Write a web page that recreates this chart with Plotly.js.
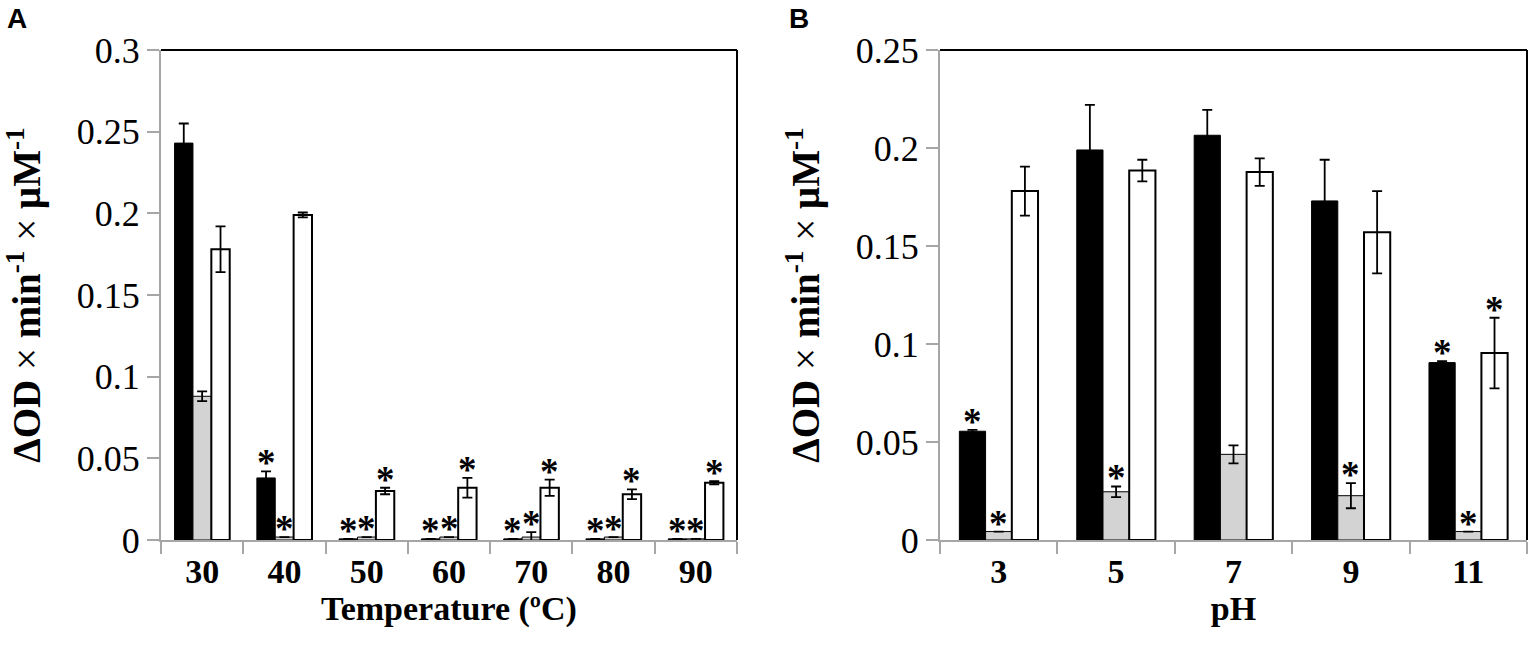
<!DOCTYPE html>
<html>
<head>
<meta charset="utf-8">
<script src="https://cdn.plot.ly/plotly-3.0.1.min.js"></script>
<style>html,body{margin:0;padding:0;background:#fff;}#chart{width:1536px;height:665px;}</style>
</head>
<body>
<div id="chart"></div>
<script>
// ---- Data ----
const tempCats = ['30', '40', '50', '60', '70', '80', '90'];
const tempBlack = [0.243, 0.038, 0.0007, 0.0007, 0.0007, 0.0007, 0.0007];
const tempBlackErr = [0.012, 0.004, 0, 0, 0, 0, 0];
const tempGray = [0.088, 0.0018, 0.0018, 0.0018, 0.0018, 0.0018, 0.0007];
const tempGrayErr = [0.003, 0, 0, 0, 0.003, 0, 0];
const tempWhite = [0.178, 0.199, 0.030, 0.032, 0.032, 0.028, 0.035];
const tempWhiteErr = [0.014, 0.0015, 0.002, 0.006, 0.005, 0.003, 0.001];
const tempStarBlack = [0, 1, 1, 1, 1, 1, 1];
const tempStarGray = [0, 1, 1, 1, 1, 1, 1];
const tempStarWhite = [0, 0, 1, 1, 1, 1, 1];

const phCats = ['3', '5', '7', '9', '11'];
const phBlack = [0.0555, 0.199, 0.2065, 0.173, 0.0905];
const phBlackErr = [0.0007, 0.023, 0.013, 0.021, 0.0007];
const phGray = [0.0043, 0.0246, 0.0437, 0.0226, 0.0043];
const phGrayErr = [0, 0.0027, 0.0046, 0.0064, 0];
const phWhite = [0.178, 0.1885, 0.1877, 0.157, 0.0954];
const phWhiteErr = [0.0125, 0.0055, 0.007, 0.021, 0.018];
const phStarBlack = [1, 0, 0, 0, 1];
const phStarGray = [1, 1, 0, 1, 1];
const phStarWhite = [0, 0, 0, 0, 1];

const yTitle = '<b>ΔOD</b> × <b>min<sup>-1</sup></b> × <b>μM<sup>-1</sup></b>';

// ---- Styles ----
const BARGAP = 0.33;
const serif = 'Liberation Serif, Times New Roman, serif';
const fills = ['#000000', '#d3d3d3', '#ffffff'];
const lineW = [1, 1, 2];

function barTrace(cats, vals, errs, k, xa, ya) {
  return {
    type: 'bar', x: cats, y: vals, xaxis: xa, yaxis: ya, showlegend: false,
    marker: {color: fills[k], line: {color: '#000', width: lineW[k]}},
    error_y: {type: 'data', array: errs, visible: true, color: '#000', thickness: 1.8, width: 5},
    hoverinfo: 'skip'
  };
}

const traces = [
  barTrace(tempCats, tempBlack, tempBlackErr, 0, 'x', 'y'),
  barTrace(tempCats, tempGray, tempGrayErr, 1, 'x', 'y'),
  barTrace(tempCats, tempWhite, tempWhiteErr, 2, 'x', 'y'),
  barTrace(phCats, phBlack, phBlackErr, 0, 'x2', 'y2'),
  barTrace(phCats, phGray, phGrayErr, 1, 'x2', 'y2'),
  barTrace(phCats, phWhite, phWhiteErr, 2, 'x2', 'y2')
];

// star annotations
const annotations = [];
const bw = (1 - BARGAP) / 3;
function addStars(stars, vals, errs, k, xa, ya) {
  stars.forEach((s, i) => {
    if (!s) return;
    annotations.push({
      xref: xa, yref: ya, x: i + (k - 1) * bw, y: vals[i] + errs[i],
      text: '<b>*</b>', showarrow: false, yanchor: 'bottom', xanchor: 'center', yshift: -14,
      font: {family: serif, size: 37, color: '#000'}
    });
  });
}
addStars(tempStarBlack, tempBlack, tempBlackErr, 0, 'x', 'y');
addStars(tempStarGray, tempGray, tempGrayErr, 1, 'x', 'y');
addStars(tempStarWhite, tempWhite, tempWhiteErr, 2, 'x', 'y');
addStars(phStarBlack, phBlack, phBlackErr, 0, 'x2', 'y2');
addStars(phStarGray, phGray, phGrayErr, 1, 'x2', 'y2');
addStars(phStarWhite, phWhite, phWhiteErr, 2, 'x2', 'y2');

// panel letters
annotations.push({xref: 'paper', yref: 'paper', x: 5 / 1536, y: 1 - 1 / 665, xanchor: 'left', yanchor: 'top',
  text: '<b>A</b>', showarrow: false, font: {family: 'Liberation Sans, Arial, sans-serif', size: 28, color: '#000'}});
annotations.push({xref: 'paper', yref: 'paper', x: 787 / 1536, y: 1 - 1 / 665, xanchor: 'left', yanchor: 'top',
  text: '<b>B</b>', showarrow: false, font: {family: 'Liberation Sans, Arial, sans-serif', size: 28, color: '#000'}});

function xAxis(domain, title, n) {
  return {
    domain: domain, type: 'category', range: [-0.5, n - 0.5], tickson: 'boundaries',
    ticks: 'outside', ticklen: 12, tickcolor: '#a6a6a6', tickwidth: 2,
    showline: true, linecolor: '#a6a6a6', linewidth: 2, showgrid: false, zeroline: false,
    tickfont: {family: serif, size: 34, color: '#000', weight: 'bold'},
    title: {text: '<b>' + title + '</b>', font: {family: serif, size: 34, color: '#000'}, standoff: 2},
    automargin: false, fixedrange: true
  };
}
function yAxis(max, anchor) {
  return {
    domain: [1 - 540 / 665, 1 - 50 / 665], anchor: anchor, range: [0, max], dtick: 0.05, tick0: 0,
    ticks: 'outside', ticklen: 12, tickcolor: '#a6a6a6', tickwidth: 2,
    showline: true, linecolor: '#a6a6a6', linewidth: 2, showgrid: false, zeroline: false,
    tickfont: {family: serif, size: 36, color: '#000'},
    title: {text: yTitle, font: {family: serif, size: 39, color: '#000'}, standoff: 24},
    automargin: false, fixedrange: true
  };
}

const layout = {
  width: 1536, height: 665, margin: {l: 0, r: 0, t: 0, b: 0},
  paper_bgcolor: '#fff', plot_bgcolor: '#fff',
  barmode: 'group', bargap: BARGAP, bargroupgap: 0,
  xaxis: Object.assign(xAxis([161 / 1536, 737 / 1536], 'Temperature (ºC)', tempCats.length), {anchor: 'y'}),
  yaxis: yAxis(0.3, 'x'),
  xaxis2: Object.assign(xAxis([940 / 1536, 1527 / 1536], 'pH', phCats.length), {anchor: 'y2'}),
  yaxis2: yAxis(0.25, 'x2'),
  annotations: annotations,
  shapes: [
    {type: 'line', xref: 'x domain', yref: 'y domain', x0: 0, x1: 1, y0: 1, y1: 1, line: {color: '#000', width: 2}},
    {type: 'line', xref: 'x domain', yref: 'y domain', x0: 1, x1: 1, y0: 0, y1: 1, line: {color: '#000', width: 2}},
    {type: 'line', xref: 'x2 domain', yref: 'y2 domain', x0: 0, x1: 1, y0: 1, y1: 1, line: {color: '#000', width: 2}},
    {type: 'line', xref: 'x2 domain', yref: 'y2 domain', x0: 1, x1: 1, y0: 0, y1: 1, line: {color: '#000', width: 2}}
  ]
};

Plotly.newPlot('chart', traces, layout, {displayModeBar: false, staticPlot: true});
</script>
</body>
</html>
